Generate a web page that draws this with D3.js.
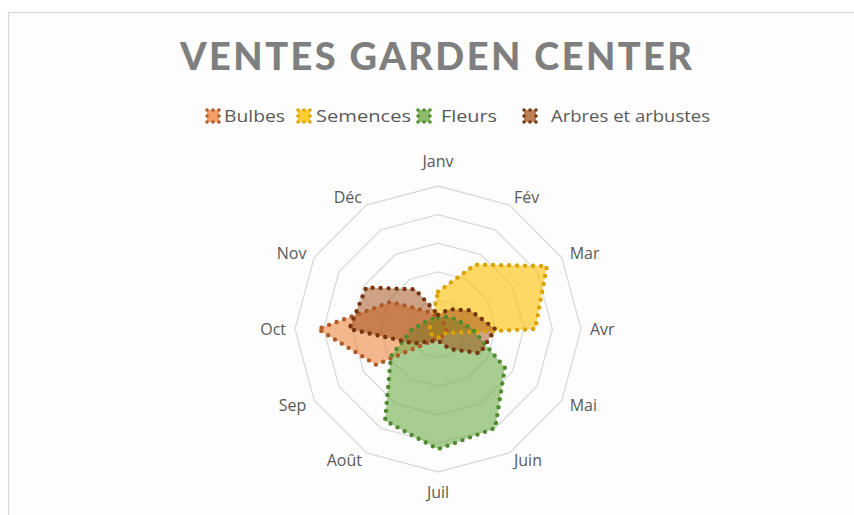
<!DOCTYPE html>
<html>
<head>
<meta charset="utf-8">
<script src="https://cdn.jsdelivr.net/npm/d3@7"></script>
<style>
  html, body { margin: 0; padding: 0; background: #ffffff; }
  svg { display: block; }
</style>
</head>
<body>
<svg id="chart" width="854" height="515"></svg>
<script>
// Monthly sales per product family
const months = ["Janv", "Fév", "Mar", "Avr", "Mai", "Juin", "Juil", "Août", "Sep", "Oct", "Nov", "Déc"];
const seriesNames = ["Bulbes", "Semences", "Fleurs", "Arbres et arbustes"];
const bulbes   = [4, 3, 3, 3, 3, 3, 3, 5, 25, 42, 19, 7];
const semences = [13, 26, 44, 34, 3, 3, 3, 3, 3, 3, 3, 4];
const fleurs   = [4, 5, 7, 12, 27, 40, 42, 37, 19, 9, 5, 4];
const arbres   = [5, 8, 13, 20, 17, 8, 4, 5, 10, 31, 29, 16];
const radialTicks = [10, 20, 30, 40, 50];
const title = "VENTES GARDEN CENTER";

const fills   = ["#ed7d31", "#ffc000", "#70ad47", "#9e480e"];
const outline = ["#b05a28", "#dba300", "#4f8a2f", "#743510"];
const fillOpacity = [0.55, 0.6, 0.6, 0.5];

const svg = d3.select("#chart");
const W = 854, H = 515;
const cx = 438, cy = 329, R = 143;

// chart frame
svg.append("rect")
  .attr("x", 8.5).attr("y", 12.5)
  .attr("width", W + 20).attr("height", H + 20)
  .attr("fill", "#fdfdfd")
  .attr("stroke", "#d6d6d6").attr("stroke-width", 1.2);

// title
svg.append("text")
  .attr("x", 436).attr("y", 70)
  .attr("text-anchor", "middle")
  .attr("font-family", "Lato, 'Open Sans', sans-serif")
  .attr("font-weight", "900")
  .attr("font-size", 38)
  .attr("fill", "#7f7f7f")
  .attr("textLength", 512)
  .attr("lengthAdjust", "spacing")
  .text(title);

// legend
const legendItems = [
  { marker: 207, text: 224, width: 61 },
  { marker: 298, text: 316, width: 95 },
  { marker: 418, text: 441, width: 56 },
  { marker: 524, text: 551, width: 159 }
];
const legend = svg.append("g");
legendItems.forEach((li, i) => {
  legend.append("rect")
    .attr("x", li.marker).attr("y", 110)
    .attr("width", 12).attr("height", 12)
    .attr("fill", fills[i]).attr("fill-opacity", fillOpacity[i] + 0.2)
    .attr("stroke", outline[i]).attr("stroke-width", 3.5)
    .attr("stroke-dasharray", "0 6").attr("stroke-linecap", "round");
  legend.append("text")
    .attr("x", li.text).attr("y", 122)
    .attr("font-family", "'Open Sans', sans-serif")
    .attr("font-size", 16)
    .attr("fill", "#595959")
    .attr("textLength", li.width)
    .attr("lengthAdjust", "spacingAndGlyphs")
    .text(seriesNames[i]);
});

// scales
const angle = d3.scalePoint().domain(months).range([0, 2 * Math.PI * (11 / 12)]);
const r = d3.scaleLinear().domain([0, 50]).range([0, R]);

const plot = svg.append("g").attr("transform", `translate(${cx},${cy})`);

// grid rings
const ring = d3.lineRadial()
  .angle(d => angle(d.m))
  .radius(d => r(d.v))
  .curve(d3.curveLinearClosed);

plot.selectAll("path.ring")
  .data(radialTicks)
  .join("path")
  .attr("class", "ring")
  .attr("d", t => ring(months.map(m => ({ m, v: t }))))
  .attr("fill", "none")
  .attr("stroke", "#dadada")
  .attr("stroke-width", 1.3);

// series polygons
const seriesData = [bulbes, semences, fleurs, arbres];
const area = d3.lineRadial()
  .angle((d, i) => angle(months[i]))
  .radius(d => r(d))
  .curve(d3.curveLinearClosed);

seriesData.forEach((vals, i) => {
  plot.append("path")
    .attr("d", area(vals))
    .attr("fill", fills[i])
    .attr("fill-opacity", fillOpacity[i]);
});
seriesData.forEach((vals, i) => {
  plot.append("path")
    .attr("d", area(vals))
    .attr("fill", "none")
    .attr("stroke", outline[i])
    .attr("stroke-width", 4.4)
    .attr("stroke-linecap", "round")
    .attr("stroke-dasharray", "0 8");
});

// month labels
months.forEach(m => {
  const a = angle(m);
  const s = Math.sin(a), c = Math.cos(a);
  const vertical = Math.abs(s) < 0.1;
  const rr = vertical ? (c > 0 ? R + 25 : R + 20) : R + 9;
  const x = s * rr, y = -c * rr;
  plot.append("text")
    .attr("x", x).attr("y", y)
    .attr("dy", "0.35em")
    .attr("text-anchor", vertical ? "middle" : (s > 0 ? "start" : "end"))
    .attr("font-family", "'Open Sans', sans-serif")
    .attr("font-size", 16)
    .attr("fill", "#595959")
    .text(m);
});
</script>
</body>
</html>
